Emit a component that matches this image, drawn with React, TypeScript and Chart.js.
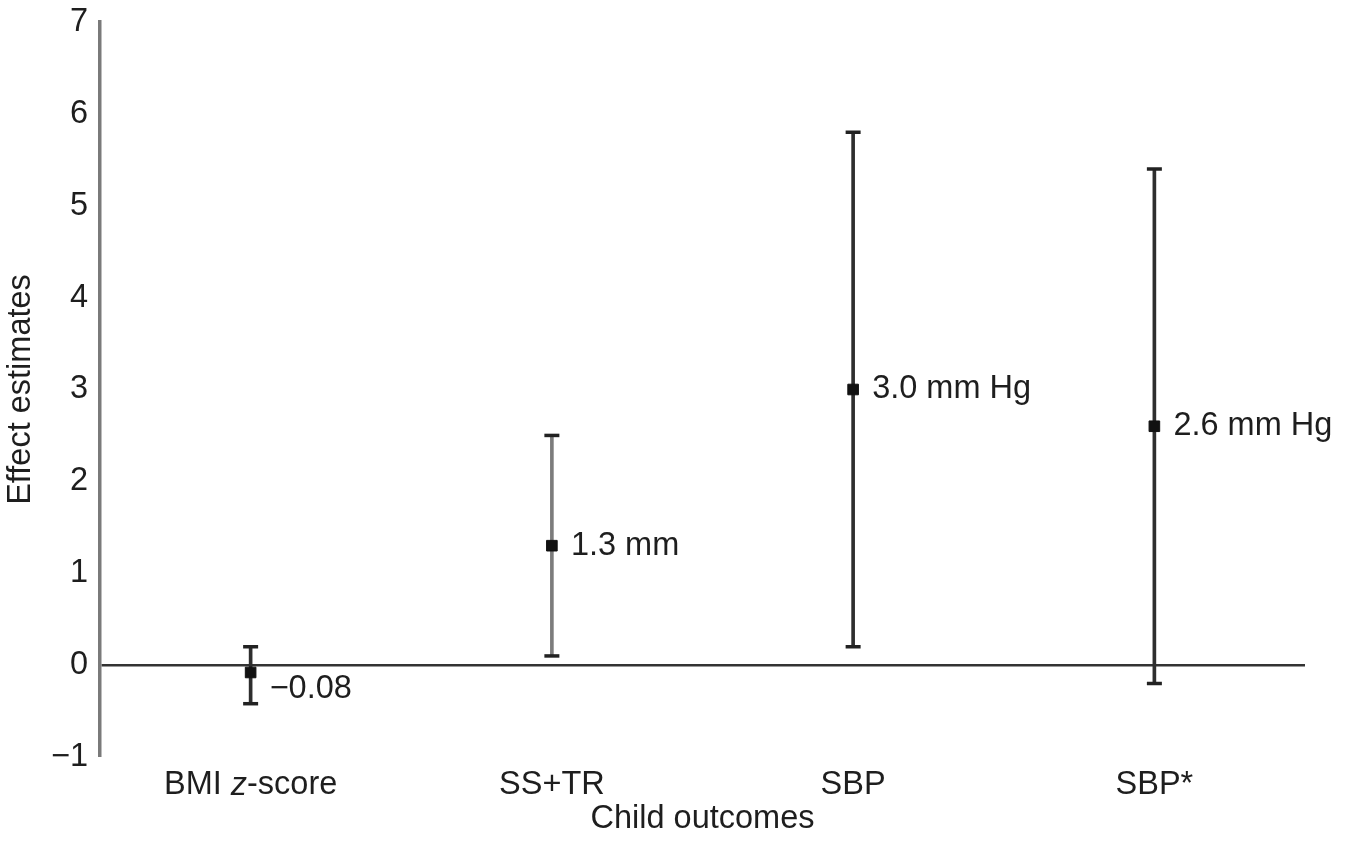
import React, { useEffect, useRef } from 'react';
import { Chart, registerables } from 'chart.js';

Chart.register(...registerables);

// ---- data ----
const categories = ['BMI z-score', 'SS+TR', 'SBP', 'SBP*'];
const estimates = [-0.08, 1.3, 3.0, 2.6];
const ciLow = [-0.42, 0.1, 0.2, -0.2];
const ciHigh = [0.2, 2.5, 5.8, 5.4];
const valueLabels = ['\u22120.08', '1.3 mm', '3.0 mm Hg', '2.6 mm Hg'];
const yMin = -1;
const yMax = 7;
const yTitle = 'Effect estimates';
const xTitle = 'Child outcomes';
const italicPiece = 'z'; // italic letter inside "BMI z-score"

// ---- styles ----
const FONT = '"Liberation Sans", Arial, Helvetica, sans-serif';
const FS = 32.5;
const TEXT = '#1e1e1e';
const whiskerColors = ['#2e2e2e', '#7c7c7c', '#2e2e2e', '#2e2e2e'];
const labelShift = { dx: 19, dy: [17, 0, 0, 0] };
const X_TICK_PAD = 9;

const richTickPlugin = {
  id: 'richTicks',
  afterDraw(chart: any) {
    const { ctx } = chart;
    const xs = chart.scales.x;
    ctx.save();
    ctx.fillStyle = TEXT;
    ctx.textBaseline = 'middle';
    categories.forEach((label, i) => {
      const idx = label.indexOf(' ' + italicPiece + '-');
      if (idx < 0) return;
      const parts: [string, boolean][] = [
        [label.slice(0, idx + 1), false],
        [italicPiece, true],
        [label.slice(idx + 1 + italicPiece.length), false],
      ];
      let total = 0;
      const widths = parts.map(([t, it]) => {
        ctx.font = `${it ? 'italic ' : ''}${FS}px ${FONT}`;
        const w = ctx.measureText(t).width;
        total += w;
        return w;
      });
      let x = xs.getPixelForValue(i) - total / 2;
      const y = xs.top + X_TICK_PAD + (FS * 1.2) / 2;
      parts.forEach(([t, it], k) => {
        ctx.font = `${it ? 'italic ' : ''}${FS}px ${FONT}`;
        ctx.textAlign = 'left';
        ctx.fillText(t, x, y);
        x += widths[k];
      });
    });
    ctx.restore();
  },
};

const valueLabelPlugin = {
  id: 'valueLabels',
  afterDatasetsDraw(chart: any) {
    const { ctx } = chart;
    const xs = chart.scales.x;
    const ys = chart.scales.y;
    ctx.save();
    ctx.font = `${FS}px ${FONT}`;
    ctx.fillStyle = TEXT;
    ctx.textAlign = 'left';
    ctx.textBaseline = 'middle';
    valueLabels.forEach((t, i) => {
      ctx.fillText(
        t,
        xs.getPixelForValue(i) + labelShift.dx,
        ys.getPixelForValue(estimates[i]) + labelShift.dy[i]
      );
    });
    ctx.restore();
  },
};

export default function App() {
  const ref = useRef<HTMLCanvasElement>(null);

  useEffect(() => {
    document.body.style.margin = '0';
    const canvas = ref.current;
    if (!canvas) return;
    const chart = new Chart(canvas, {
      type: 'bar',
      data: {
        labels: categories,
        datasets: [
          {
            type: 'line',
            label: 'Estimate',
            data: estimates,
            showLine: false,
            pointStyle: 'rect',
            pointRadius: 7.5,
            pointBackgroundColor: '#111',
            pointBorderColor: '#111',
            pointBorderWidth: 1,
            order: 0,
          } as any,
          {
            type: 'line',
            label: 'Upper',
            data: ciHigh,
            showLine: false,
            pointStyle: 'line',
            pointRadius: 7.5,
            pointBorderColor: '#222',
            pointBorderWidth: 3.5,
            order: 1,
          } as any,
          {
            type: 'line',
            label: 'Lower',
            data: ciLow,
            showLine: false,
            pointStyle: 'line',
            pointRadius: 7.5,
            pointBorderColor: '#222',
            pointBorderWidth: 3.5,
            order: 1,
          } as any,
          {
            type: 'bar',
            label: 'CI',
            data: ciLow.map((lo, i) => [lo, ciHigh[i]]),
            backgroundColor: whiskerColors,
            borderWidth: 0,
            barThickness: 3,
            order: 2,
          } as any,
        ],
      },
      options: {
        animation: false,
        responsive: false,
        devicePixelRatio: 1,
        layout: { padding: { top: 22, right: 48, bottom: 0, left: 0 } },
        plugins: {
          legend: { display: false },
          tooltip: { enabled: false },
        },
        scales: {
          x: {
            type: 'category',
            offset: true,
            grid: { display: false, drawTicks: false },
            border: { display: false },
            ticks: {
              color: TEXT,
              font: { family: FONT, size: FS },
              padding: X_TICK_PAD,
              maxRotation: 0,
              autoSkip: false,
              callback: (_v: any, i: number) =>
                categories[i].includes(' ' + italicPiece + '-') ? '' : categories[i],
            },
            title: {
              display: true,
              text: xTitle,
              color: TEXT,
              font: { family: FONT, size: FS },
              padding: { top: 0, bottom: 5 },
            },
            afterFit: (s: any) => {
              s.height = 87;
              s.paddingLeft = 0;
              s.paddingRight = 0;
            },
          },
          y: {
            type: 'linear',
            min: yMin,
            max: yMax,
            grid: {
              drawTicks: false,
              color: (c: any) => (c.tick && c.tick.value === 0 ? '#333' : 'rgba(0,0,0,0)'),
              lineWidth: (c: any) => (c.tick && c.tick.value === 0 ? 2.5 : 0),
            },
            border: { display: true, color: '#7a7a7a', width: 3.5 },
            ticks: {
              stepSize: 1,
              color: TEXT,
              font: { family: FONT, size: FS },
              padding: 12,
              callback: (v: any) => String(v).replace('-', '\u2212'),
            },
            title: {
              display: true,
              text: yTitle,
              color: TEXT,
              font: { family: FONT, size: FS },
              padding: { top: 2, bottom: 0 },
            },
            afterFit: (s: any) => {
              s.width = 100;
              s.paddingTop = 0;
              s.paddingBottom = 0;
            },
          },
        },
      },
      plugins: [richTickPlugin, valueLabelPlugin],
    });
    return () => chart.destroy();
  }, []);

  return (
    <div style={{ width: 1353, height: 844, background: '#fff' }}>
      <canvas ref={ref} width={1353} height={844} style={{ display: 'block' }} />
    </div>
  );
}
